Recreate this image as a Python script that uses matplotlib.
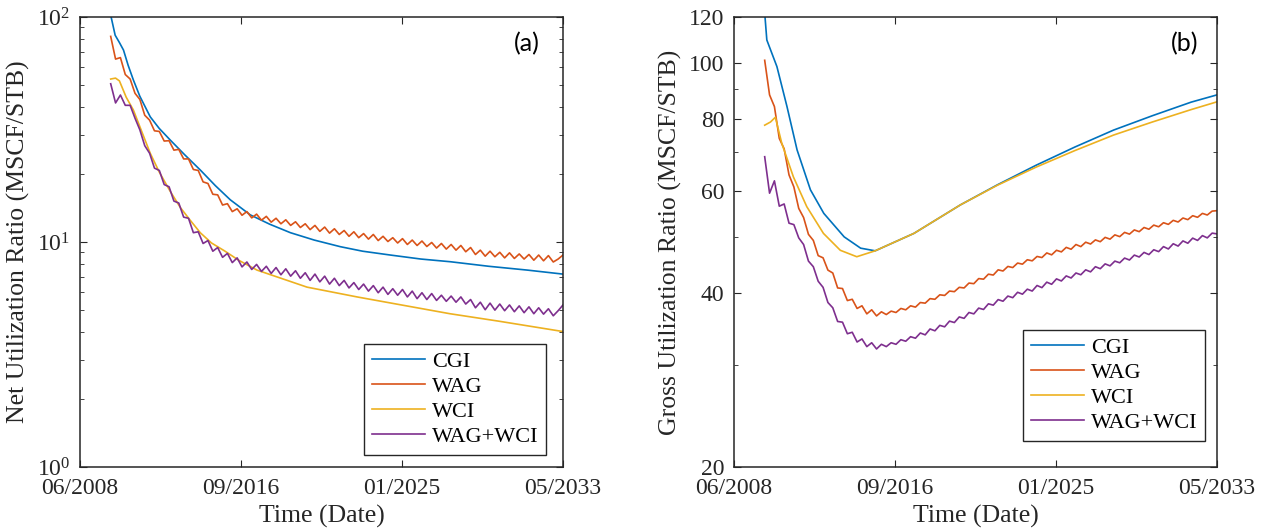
import numpy as np
import matplotlib.pyplot as plt
from matplotlib.ticker import LogLocator, NullFormatter, FixedLocator, FixedFormatter

plt.rcParams['font.family'] = ['Liberation Serif', 'DejaVu Serif']
plt.rcParams['mathtext.fontset'] = 'custom'
plt.rcParams['mathtext.rm'] = 'Liberation Serif'
plt.rcParams['mathtext.it'] = 'Liberation Serif:italic'

series = ['CGI', 'WAG', 'WCI', 'WAG+WCI']
colors = ['#0072BD', '#D95319', '#EDB120', '#7E2F8E']
date_ticks = ['06/2008', '09/2016', '01/2025', '05/2033']
x_start, x_end = 2008 + 5 / 12, 2033 + 4 / 12   # decimal years
zig_start = 2010.0                             # first quarterly sample

# ---------- (a) Net utilization ratio ----------
net_cgi_t = [2010.0, 2010.23, 2010.45, 2010.66, 2010.9, 2011.17, 2011.5, 2012.04, 2012.5, 2013.07,
             2013.8, 2014.62, 2015.4, 2016.17, 2017.2, 2018.2, 2019.27, 2020.5, 2021.85, 2023.0,
             2024.43, 2026.0, 2027.53, 2029.5, 2031.5, 2033.33]
net_cgi = [102, 83, 77, 71.3, 61, 52.5, 44.5, 36, 32, 28.4,
           24.5, 20.9, 17.8, 15.4, 13.2, 12.0, 11.0, 10.2, 9.53, 9.1,
           8.75, 8.4, 8.17, 7.8, 7.5, 7.2]

net_wci_t = [2010.0, 2010.25, 2010.45, 2010.8, 2011.17, 2011.6, 2012.04, 2012.5, 2013.07, 2013.6,
             2014.1, 2014.62, 2015.2, 2015.9, 2016.6, 2017.55, 2019.0, 2020.13, 2022.71, 2025.0,
             2027.5, 2030.0, 2033.33]
net_wci = [53, 53.5, 52, 44, 38.6, 31, 24.8, 20.5, 16.8, 14.2,
           12.5, 11.0, 9.9, 9.1, 8.3, 7.5, 6.8, 6.3, 5.7, 5.25,
           4.8, 4.45, 4.0]

net_wag = [82, 65, 66, 55.5, 53, 45.8, 43, 36.6, 34.8, 31.2, 31.0, 28.1,
           28.2, 25.6, 25.8, 23.4, 23.4, 21.0, 20.8, 18.5, 18.2, 16.3, 16.2, 14.6,
           14.8, 13.65, 14.05, 13.15, 13.65, 12.8, 13.3, 12.5, 13.0, 12.25, 12.75, 12.05,
           12.55, 11.85, 12.3, 11.6, 12.05, 11.35, 11.85, 11.15, 11.65, 10.95, 11.45, 10.8,
           11.25, 10.6, 11.1, 10.45, 10.9, 10.3, 10.8, 10.15, 10.6, 10.05, 10.45, 9.9,
           10.35, 9.75, 10.2, 9.65, 10.1, 9.55, 9.95, 9.4, 9.85, 9.3, 9.75, 9.2,
           9.65, 9.05, 9.45, 8.8, 9.2, 8.65, 9.1, 8.6, 9.0, 8.5, 8.95, 8.45,
           8.85, 8.4, 8.8, 8.3, 8.75, 8.25, 8.7, 8.15, 8.4, 8.75]

net_wagwci = [50.5, 41.5, 45, 40.5, 40.5, 35.5, 31.5, 26.8, 24.8, 21.3, 20.8, 18.0,
              17.6, 15.2, 14.9, 12.9, 12.75, 11.0, 11.1, 9.85, 10.15, 9.1, 9.45, 8.55,
              8.9, 8.1, 8.5, 7.75, 8.15, 7.55, 7.95, 7.4, 7.8, 7.25, 7.7, 7.15,
              7.6, 7.05, 7.45, 6.9, 7.3, 6.75, 7.2, 6.65, 7.05, 6.5, 6.9, 6.4,
              6.75, 6.25, 6.6, 6.15, 6.5, 6.05, 6.4, 5.95, 6.3, 5.85, 6.2, 5.8,
              6.15, 5.7, 6.05, 5.6, 5.95, 5.55, 5.9, 5.5, 5.8, 5.45, 5.75, 5.4,
              5.7, 5.3, 5.55, 5.1, 5.4, 5.0, 5.35, 4.98, 5.3, 4.95, 5.25, 4.9,
              5.2, 4.85, 5.15, 4.8, 5.1, 4.78, 5.05, 4.7, 4.95, 5.25]

# ---------- (b) Gross utilization ratio ----------
gross_cgi_t = [2010.0, 2010.11, 2010.63, 2011.15, 2011.67, 2012.36, 2013.05, 2014.1, 2014.95, 2015.7,
               2017.7, 2020.1, 2022.0, 2024.0, 2026.0, 2028.0, 2030.0, 2032.0, 2033.33]
gross_cgi = [122, 109.5, 98.5, 84, 70.7, 60.3, 54.9, 50.0, 47.8, 47.3,
             50.7, 56.8, 61.5, 66.5, 71.5, 76.5, 81, 85.5, 88]

gross_wci_t = [2010.0, 2010.3, 2010.55, 2010.88, 2011.48, 2012.17, 2013.03, 2013.9, 2014.75, 2015.7,
               2017.7, 2020.1, 2022.0, 2024.0, 2026.0, 2028.0, 2030.0, 2032.0, 2033.33]
gross_wci = [78, 79, 80.5, 72.6, 63.5, 56.4, 50.7, 47.4, 46.2, 47.3,
             50.7, 56.8, 61.4, 66.0, 70.5, 75.0, 79.0, 83.0, 85.6]

gross_wag = [101, 88, 84, 74, 71, 64, 61, 56, 54, 50.5, 49.3, 46.4,
             46.0, 43.8, 43.3, 40.8, 40.7, 38.8, 39.0, 37.6, 38.0, 36.8, 37.4, 36.5,
             37.1, 36.7, 37.2, 37.0, 37.6, 37.4, 38.0, 37.8, 38.5, 38.4, 39.1, 39.0,
             39.7, 39.6, 40.3, 40.2, 40.9, 40.8, 41.6, 41.5, 42.35, 42.25, 43.1, 42.95,
             43.85, 43.65, 44.45, 44.25, 45.05, 44.85, 45.65, 45.45, 46.25, 46.05, 46.9, 46.55,
             47.4, 47.1, 47.95, 47.6, 48.5, 48.1, 48.95, 48.6, 49.4, 49.05, 49.9, 49.55,
             50.4, 50.05, 50.9, 50.55, 51.4, 51.05, 51.9, 51.55, 52.4, 52.05, 52.9, 52.55,
             53.4, 53.05, 53.9, 53.55, 54.4, 54.05, 54.9, 54.55, 55.4, 55.5]

gross_wagwci = [68.8, 59.5, 62.5, 56.5, 57.0, 52.8, 52.5, 49.8, 48.5, 45.4, 44.4, 41.9,
                40.9, 38.5, 37.7, 35.7, 35.6, 34.0, 34.2, 32.9, 33.3, 32.3, 32.8, 32.0,
                32.6, 32.3, 32.8, 32.6, 33.2, 33.0, 33.6, 33.4, 34.1, 33.85, 34.65, 34.4,
                35.15, 34.95, 35.75, 35.55, 36.35, 36.15, 37.0, 36.8, 37.65, 37.45, 38.3, 38.1,
                38.95, 38.7, 39.5, 39.25, 40.1, 39.8, 40.6, 40.3, 41.2, 40.85, 41.75, 41.4,
                42.3, 41.95, 42.8, 42.45, 43.3, 43.0, 43.85, 43.5, 44.4, 44.05, 44.9, 44.55,
                45.4, 45.1, 45.95, 45.6, 46.5, 46.15, 47.0, 46.6, 47.5, 47.15, 48.1, 47.65,
                48.65, 48.2, 49.2, 48.75, 49.75, 49.3, 50.25, 49.8, 50.75, 50.6]

gross_ticks = [20, 40, 60, 80, 100, 120]

axis_col = '#262626'


def style_axis(ax):
    for sp in ax.spines.values():
        sp.set_color(axis_col)
        sp.set_linewidth(1.1)
    ax.tick_params(which='both', direction='in', top=True, right=True,
                   colors=axis_col, labelcolor=axis_col, labelsize=17)
    ax.tick_params(which='major', length=5, width=0.8)
    ax.tick_params(which='minor', length=3, width=0.6)
    ax.tick_params(axis='x', which='major', pad=8)
    ax.tick_params(axis='y', which='major', pad=7)
    ax.set_xlim(x_start, x_end)
    ax.xaxis.set_major_locator(FixedLocator(np.linspace(x_start, x_end, len(date_ticks))))
    ax.xaxis.set_major_formatter(FixedFormatter(date_ticks))
    ax.set_xlabel('Time (Date)', fontsize=18.5, color=axis_col, labelpad=4)


def draw(ax, smooth, zig):
    (t1, v1), (t3, v3) = smooth
    v2, v4 = zig
    ax.plot(t1, v1, color=colors[0], lw=1.2, label=series[0])
    ax.plot(np.linspace(zig_start, x_end, len(v2)), v2, color=colors[1], lw=1.2, label=series[1])
    ax.plot(t3, v3, color=colors[2], lw=1.2, label=series[2])
    ax.plot(np.linspace(zig_start, x_end, len(v4)), v4, color=colors[3], lw=1.2, label=series[3])


fig = plt.figure(figsize=(12.7, 5.31), dpi=100)
ax1 = fig.add_axes([80 / 1270, 64 / 531, 483 / 1270, 450 / 531])
ax2 = fig.add_axes([734 / 1270, 64 / 531, 483 / 1270, 450 / 531])

draw(ax1, [(net_cgi_t, net_cgi), (net_wci_t, net_wci)], [net_wag, net_wagwci])
ax1.set_yscale('log')
ax1.set_ylim(1, 100)
ax1.yaxis.set_major_locator(LogLocator(base=10, numticks=5))
ax1.yaxis.set_minor_locator(LogLocator(base=10, subs=np.arange(2, 10), numticks=20))
ax1.yaxis.set_minor_formatter(NullFormatter())
style_axis(ax1)
ax1.set_ylabel('Net Utilization Ratio (MSCF/STB)', fontsize=18.5, color=axis_col, labelpad=5)
ax1.text(0.925, 0.94, '(a)', transform=ax1.transAxes, fontsize=18, family='Lato',
         ha='center', va='center', color='black')
leg1 = ax1.legend(loc='lower right', bbox_to_anchor=(0.965, 0.027), fontsize=16,
                  handlelength=2.4, labelspacing=0.2, handletextpad=0.3, borderpad=0.35,
                  fancybox=False, framealpha=1, edgecolor=axis_col, borderaxespad=0)
leg1.get_frame().set_linewidth(1.0)

draw(ax2, [(gross_cgi_t, gross_cgi), (gross_wci_t, gross_wci)], [gross_wag, gross_wagwci])
ax2.set_yscale('log')
ax2.set_ylim(20, 120)
ax2.yaxis.set_major_locator(FixedLocator(gross_ticks))
ax2.yaxis.set_major_formatter(FixedFormatter([str(v) for v in gross_ticks]))
ax2.yaxis.set_minor_locator(LogLocator(base=10, subs=np.arange(2, 10), numticks=20))
ax2.yaxis.set_minor_formatter(NullFormatter())
style_axis(ax2)
ax2.set_ylabel('Gross Utilization Ratio (MSCF/STB)', fontsize=18.5, color=axis_col, labelpad=5)
ax2.text(0.934, 0.94, '(b)', transform=ax2.transAxes, fontsize=18, family='Lato',
         ha='center', va='center', color='black')
leg2 = ax2.legend(loc='lower right', bbox_to_anchor=(0.975, 0.058), fontsize=16,
                  handlelength=2.4, labelspacing=0.2, handletextpad=0.3, borderpad=0.35,
                  fancybox=False, framealpha=1, edgecolor=axis_col, borderaxespad=0)
leg2.get_frame().set_linewidth(1.0)

fig.savefig('out.png', dpi=100, facecolor='white')
